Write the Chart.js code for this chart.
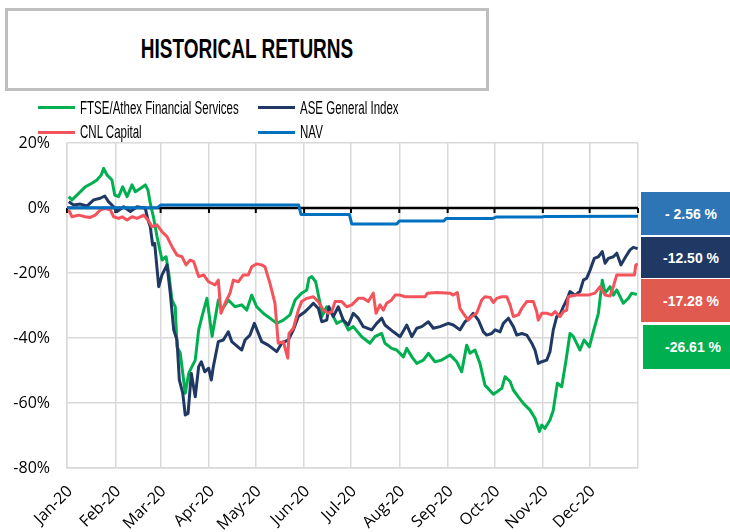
<!DOCTYPE html>
<html>
<head>
<meta charset="utf-8">
<script src="https://cdn.jsdelivr.net/npm/chart.js@4.4.1/dist/chart.umd.min.js"></script>
<style>
  html, body { margin: 0; padding: 0; background: #fff; }
  #wrap { position: relative; width: 730px; height: 532px; overflow: hidden; background: #fff; }
  #c { position: absolute; left: 0; top: 0; }
  .titlebox { position: absolute; left: 5px; top: 8px; width: 478px; height: 77px; border: 3px solid #BFBFBF;
    display: flex; align-items: center; justify-content: center; background: #fff; }
  .titlebox span { font-family: "Liberation Sans", Arial, sans-serif; font-weight: bold; font-size: 27px; color: #000;
    display: inline-block; transform: scaleX(0.703); white-space: nowrap; }
  .lg-line { position: absolute; width: 37px; height: 3px; }
  .lg-text { position: absolute; font-family: "Liberation Sans", Arial, sans-serif; font-size: 18px; line-height: 20px;
    color: #000; white-space: nowrap; transform: scaleX(0.64); transform-origin: 0 50%; }
  .vbox { position: absolute; width: 100px; display: flex; align-items: center; justify-content: center;
    font-family: "Liberation Sans", Arial, sans-serif; font-weight: bold; font-size: 14px; color: #fff; white-space: pre; }
</style>
</head>
<body>
<div id="wrap">
  <canvas id="c" width="730" height="532"></canvas>
  <div class="titlebox"><span id="title"></span></div>
  <div id="legend"></div>
  <div id="boxes"></div>
</div>
<script>
// ---------- DATA ----------
const chartTitle = 'HISTORICAL RETURNS';
const monthStartDays = [0, 31, 60, 91, 121, 152, 182, 213, 244, 274, 305, 335, 366];
const monthLabels = ['Jan-20','Feb-20','Mar-20','Apr-20','May-20','Jun-20','Jul-20','Aug-20','Sep-20','Oct-20','Nov-20','Dec-20',''];
const yTickValues = [-80, -60, -40, -20, 0, 20];

const seriesNames = ['FTSE/Athex Financial Services', 'ASE General Index', 'CNL Capital', 'NAV'];
const seriesColors = ['#00B050', '#203864', '#F4535B', '#0070C0'];
const finalLabels = ['-26.61 %', '-12.50 %', '-17.28 %', '- 2.56 %'];
const boxColors = ['#00B050', '#1F3864', '#E15A50', '#2E75B6'];

// day of year 2020 (0 = 1 Jan) and return in %
const ftseDays = [1.1,3.2,7.5,11.7,16,19.2,22,23.5,25.6,28.8,
  30.6,33.1,35.7,38.5,41.7,43.8,47,50.2,51.9,53.4,
  55.6,57.7,60.9,63.5,65.2,67.3,69.4,70.5,72.6,75.8,
  78,80.1,82.2,84.4,86.5,89.7,93,97,99.2,103.4,
  107.7,112,115.2,118.4,121.6,125.8,130.1,134.4,138.7,142.9,
  146.2,150.4,153.7,155.1,156.9,159.4,162.2,163.3,166.5,169.7,
  172.9,177.1,180.3,183.5,188.9,194.2,197.4,201.7,203.8,208.1,
  211.3,215.6,217.8,221,224.2,228.4,231.6,235.9,240.2,245.5,
  249.8,253,256.2,258.3,261.5,264.7,267.9,273.3,278.7,280.8,
  284,286.1,289.3,292.5,296.8,300,302.8,304.3,306.4,309.6,
  311.7,314.3,317.1,319.9,322.4,324.6,328.8,331.4,334.8,337.4,
  340.6,343.1,344.9,348.1,350.2,352.4,356.6,359.8,362,365.2];
const ftseValues = [3.5,2.5,4.5,6.5,7.6,8.6,10.2,12.2,10.2,8.6,
  4.0,3.5,6.5,3.5,7.1,5.0,6.0,7.1,5.5,1.4,
  -3.2,-8.8,-16,-15,-20,-28.3,-30.4,-42.7,-44.7,-57,
  -50.9,-48.8,-46.8,-37.5,-33.4,-27.8,-39.5,-28.3,-31.4,-28.3,
  -30.4,-29.8,-31.4,-26.8,-30.4,-32.4,-33.9,-35.5,-34.5,-32.9,
  -28.3,-26.2,-25.2,-21.6,-21.1,-22.7,-29.3,-33.4,-30.4,-32.4,
  -35.5,-34.5,-37.5,-36.5,-39.6,-41.6,-39.6,-38.6,-41.6,-43.2,
  -43.7,-45.8,-43.2,-45.8,-47.8,-46.8,-44.7,-47.3,-46.8,-45.2,
  -47.3,-50.4,-42.2,-44.7,-43.7,-47.8,-54.5,-57.3,-55.5,-51.9,
  -53.4,-56,-58.1,-60.1,-62.2,-64.7,-68.8,-66.8,-67.8,-65.2,
  -62.2,-53.9,-55,-46.8,-38.6,-39.6,-43.7,-40.6,-42.7,-38,
  -32.4,-22.2,-26.2,-24.2,-26.8,-25.2,-29.3,-27.8,-26.2,-26.61];

const aseDays = [1.1,4.3,8.5,12.8,17.1,21.3,24.2,26.7,29.9,32.1,
  36.3,40.6,44.9,50.2,51.9,53.4,54.9,56.2,58.8,60.9,
  64.1,66.2,68.4,70.5,72,74.2,75.8,77.6,79.7,82.2,
  84.4,86.1,88.3,90.8,92.5,93.8,97,100.2,103.4,105.6,
  112,114.1,117.3,120.1,124.8,129,134.4,137.6,141.9,145.1,
  148.3,152.6,155.8,157.9,161.1,163.3,166.5,167.9,170.7,173.9,
  177.1,180.3,183.5,186.7,189.9,195.3,198.5,201.7,203.8,209.2,
  213.5,217.8,221,224.2,227.4,231.6,234.8,239.1,244.4,247.6,
  251.9,255.1,257.9,260.4,263.7,266.9,269,272.2,274.4,277.6,
  279.7,282.9,286.1,288.3,291.5,294.7,297.9,300,302.1,304.3,
  307.5,309.6,311.7,313.9,316,318.1,320.3,322.4,325.6,328.8,
  331,333.1,335.3,338,340.6,343.1,344.9,347,350.2,352.4,
  355.1,358.1,360.9,363,365.8];
const aseValues = [1.9,0.9,1.2,0.6,2.5,3.0,3.7,1.9,0.4,-1.1,
  0.4,-1.1,0.4,-0.1,-3.7,-5.8,-11.4,-10.9,-24.2,-20.6,
  -17.5,-26.2,-37.5,-40.6,-52.9,-57,-63.7,-63.2,-50.9,-58.1,
  -48.8,-47.3,-50.4,-49.3,-52.9,-48.8,-41.1,-40.6,-38.1,-41.1,
  -43.7,-40.6,-39.1,-35.5,-41.1,-42.2,-44.2,-41.6,-40.6,-37.5,
  -33.4,-31.9,-30.4,-29.3,-30.9,-35,-34.5,-30.4,-33.4,-30.4,
  -34.5,-36,-32.4,-33.9,-36.5,-37.5,-35.5,-33.9,-36,-38.1,
  -39.6,-36,-39.6,-37,-36.5,-35,-37,-36.5,-35.5,-36,
  -37.5,-35,-33.9,-32.4,-34.5,-38.1,-39.1,-38.6,-37.5,-38.1,
  -35.5,-33.9,-36.5,-39.1,-38.6,-39.1,-41.6,-43.7,-47.8,-47.3,
  -46.8,-44.2,-37.5,-33.4,-32.9,-30.4,-28.3,-25.7,-26.8,-25.7,
  -22.2,-21.6,-19.1,-15.5,-15,-13.4,-17,-15.5,-15,-13.9,
  -17.5,-15,-12.9,-12.1,-12.5];

const cnlDays = [1.1,3.2,7.5,11.7,14.9,18.1,21.3,24.6,27.8,29.9,
  33.1,35.3,38.5,41.7,44.9,49.2,51.9,54.5,57.7,60.9,
  64.1,67.3,70.5,73.7,76.3,79,81.2,84.4,87.6,90.8,
  94.9,97,98.7,101.3,104.5,106.6,109.8,113,116.2,118.4,
  121.6,124.8,126.9,130.1,133.3,135.4,138.7,141.5,142.3,145.1,
  148.3,150.4,153.7,157.9,161.1,164.3,167.5,169.7,171.8,176.1,
  179.3,182.5,186.7,189.9,193.1,196.3,198.1,200.6,202.8,204.9,
  208.1,210.3,213.5,216.7,229.5,231,237,245.5,247.6,250.2,
  251.9,254,257.2,259.4,262.6,265.8,267.9,271.2,273.3,275.4,
  278.7,281.9,284,286.1,289.3,291.5,294.7,298.9,301.1,302.1,
  304.3,307.5,310.7,312.8,316,318.1,320.3,321.3,325.6,334.1,
  338.4,341.7,344.9,348.1,350.2,352.4,363.7,364.6,366];
const cnlValues = [-0.6,-2.7,-2.2,-2.7,-2.9,-2.2,-0.6,-0.1,-0.6,-2.7,
  -3.2,-2.7,-3.7,-2.7,-3.2,-2.2,-3.7,-5.8,-5.2,-7.3,
  -8.8,-11.9,-14.5,-15,-17.5,-16,-16.5,-21.1,-20.6,-22.7,
  -23.7,-22.2,-32.4,-29.3,-26.2,-22.2,-22.7,-20.6,-20.6,-18.1,
  -17.2,-17.5,-18.1,-23.2,-29.3,-41.6,-41.1,-46.2,-38.6,-37,
  -31.4,-28.8,-27.8,-27.3,-28.8,-31.4,-32.4,-31.9,-28.8,-28.8,
  -30.4,-29.8,-27.8,-27.8,-28.8,-26.2,-32.4,-29.8,-31.4,-29.3,
  -28.3,-26.8,-26.8,-27.3,-27.3,-26.2,-26,-26.2,-26.8,-26,
  -30.9,-32.4,-34.5,-33.4,-32.4,-28.3,-27.3,-27.5,-29.1,-27.8,
  -27.3,-27.3,-29.8,-33.4,-32.9,-30.9,-28.8,-28.8,-31.9,-34.5,
  -32.4,-32.4,-32.9,-31.9,-33.4,-31.9,-31.4,-27.3,-26.8,-26.8,
  -26.2,-24.2,-26.8,-27.1,-24.2,-20.6,-20.6,-17.5,-17.28];

const navDays = [0,58,60,148.5,150,181,182.5,211.5,213,241.5,243,273,275,304,306,366];
const navValues = [0.1,0.1,0.9,0.9,-2.0,-2.0,-4.9,-4.9,-4.0,-4.0,-3.2,-3.2,-2.8,-2.8,-2.6,-2.56];

// ---------- BUILD ----------
const allDays = [ftseDays, aseDays, cnlDays, navDays];
const allValues = [ftseValues, aseValues, cnlValues, navValues];
const toPoints = (d, v) => d.map((x, i) => ({ x: x, y: v[i] }));

document.getElementById('title').textContent = chartTitle;

// legend (2 columns, Excel style): FTSE, ASE in row 1; CNL, NAV in row 2
const legendPos = [[38, 107.5], [258, 107.5], [38, 132], [258, 132]];
const lg = document.getElementById('legend');
[0, 1, 2, 3].forEach(i => {
  const [lx, ly] = legendPos[i];
  const line = document.createElement('div');
  line.className = 'lg-line';
  line.style.left = lx + 'px';
  line.style.top = (ly - 1.5) + 'px';
  line.style.background = seriesColors[i];
  lg.appendChild(line);
  const t = document.createElement('div');
  t.className = 'lg-text';
  t.style.left = (lx + 42) + 'px';
  t.style.top = (ly - 9.75) + 'px';
  t.textContent = seriesNames[i];
  lg.appendChild(t);
});

// final value boxes (NAV, ASE, CNL, FTSE from top)
const boxGeom = [[643, 325, 44], [641, 237, 41], [641, 279, 43], [641, 192, 43]];
const bx = document.getElementById('boxes');
[3, 1, 2, 0].forEach(i => {
  const [l, t, h] = boxGeom[i];
  const b = document.createElement('div');
  b.className = 'vbox';
  b.style.left = l + 'px';
  b.style.top = t + 'px';
  b.style.height = h + 'px';
  b.style.background = boxColors[i];
  b.textContent = finalLabels[i];
  bx.appendChild(b);
});

const zeroAxis = {
  id: 'zeroAxis',
  beforeDatasetsDraw(chart) {
    const { ctx, scales: { x, y } } = chart;
    const y0 = y.getPixelForValue(0);
    ctx.save();
    ctx.strokeStyle = '#000';
    ctx.lineWidth = 2.5;
    ctx.beginPath();
    ctx.moveTo(x.left, y0);
    ctx.lineTo(x.right, y0);
    ctx.stroke();
    ctx.lineWidth = 2;
    ctx.beginPath();
    monthStartDays.forEach(d => {
      const px = x.getPixelForValue(d);
      ctx.moveTo(px, y0);
      ctx.lineTo(px, y0 + 5);
    });
    ctx.stroke();
    ctx.restore();
  }
};

const orders = [4, 3, 2, 1];
new Chart(document.getElementById('c'), {
  type: 'line',
  data: {
    datasets: seriesNames.map((name, i) => ({
      label: name,
      data: toPoints(allDays[i], allValues[i]),
      borderColor: seriesColors[i],
      backgroundColor: seriesColors[i],
      borderWidth: 3,
      pointRadius: 0,
      tension: 0,
      fill: false,
      borderJoinStyle: 'round',
      order: orders[i]
    }))
  },
  options: {
    responsive: false,
    animation: false,
    events: [],
    layout: { padding: { top: 143, right: 92, left: 0, bottom: 0 } },
    plugins: { legend: { display: false }, tooltip: { enabled: false } },
    scales: {
      x: {
        type: 'linear',
        min: 0,
        max: 366,
        afterBuildTicks: s => { s.ticks = monthStartDays.map(v => ({ value: v })); },
        afterFit: s => { s.height = 64; },
        ticks: {
          autoSkip: false,
          minRotation: 45,
          maxRotation: 45,
          padding: 14,
          labelOffset: 3,
          color: '#000',
          font: { family: 'Open Sans', size: 16 },
          callback: (v, i) => monthLabels[i]
        },
        grid: { color: '#D9D9D9', lineWidth: 1.5, drawTicks: false },
        border: { color: '#D9D9D9', width: 1.5 }
      },
      y: {
        min: -80,
        max: 20,
        afterBuildTicks: s => { s.ticks = yTickValues.map(v => ({ value: v })); },
        afterFit: s => { s.width = 67; },
        ticks: {
          padding: 17,
          color: '#000',
          font: { family: 'Open Sans', size: 16 },
          callback: v => v + '%'
        },
        grid: { color: '#D9D9D9', lineWidth: 1.5, drawTicks: false },
        border: { color: '#D9D9D9', width: 1.5 }
      }
    }
  },
  plugins: [zeroAxis]
});
</script>
</body>
</html>
